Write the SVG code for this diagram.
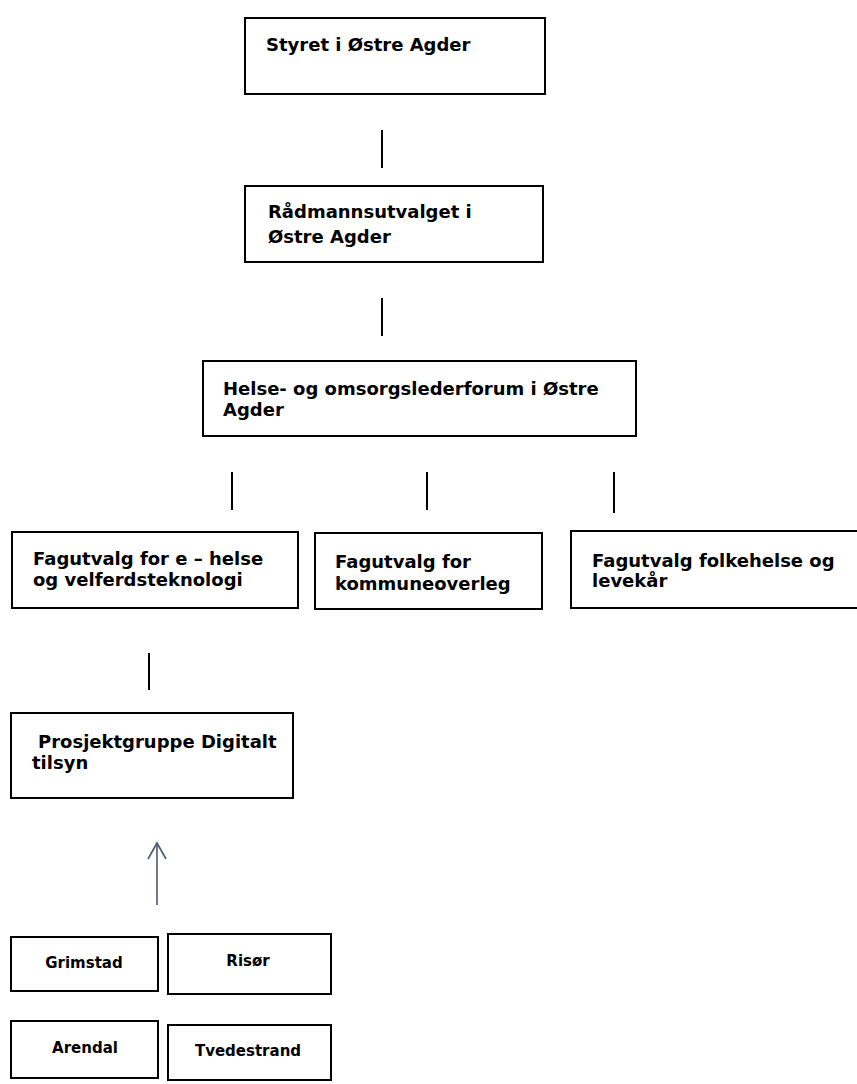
<svg xmlns="http://www.w3.org/2000/svg" width="857" height="1084" viewBox="0 0 857 1084">
<style>
.box{fill:#fff;stroke:#000;stroke-width:2}
.t{font-family:"DejaVu Sans","Liberation Sans",sans-serif;font-weight:bold;font-size:18px;fill:#000}
.s{font-family:"DejaVu Sans","Liberation Sans",sans-serif;font-weight:bold;font-size:15px;fill:#000;text-anchor:middle}
.ln{stroke:#000;stroke-width:2;fill:none}
.ar{stroke:#4a5a6e;stroke-width:1.6;fill:none}
</style>
<defs>
<marker id="open" markerWidth="20" markerHeight="22" refX="17" refY="10" orient="auto" markerUnits="userSpaceOnUse">
<path d="M1,1 L17,10 L1,19" stroke="#4a5a6e" stroke-width="1.6" fill="none"/>
</marker>
</defs>
<rect width="857" height="1084" fill="#fff"/>
<g id="connectors">
<line class="ln" x1="382" y1="130" x2="382" y2="168"/>
<line class="ln" x1="382" y1="298" x2="382" y2="336"/>
<line class="ln" x1="232" y1="472" x2="232" y2="510"/>
<line class="ln" x1="427" y1="472" x2="427" y2="510"/>
<line class="ln" x1="614" y1="472" x2="614" y2="513"/>
<line class="ln" x1="149" y1="653" x2="149" y2="690"/>
<line class="ar" x1="157" y1="905" x2="157" y2="843" marker-end="url(#open)"/>
</g>
<g id="styret">
<rect class="box" x="245" y="18" width="300" height="76"/>
<text class="t" x="266" y="51">Styret i Østre Agder</text>
</g>
<g id="radmann">
<rect class="box" x="245" y="186" width="298" height="76"/>
<text class="t" x="268" y="218">Rådmannsutvalget i</text>
<text class="t" x="268" y="243">Østre Agder</text>
</g>
<g id="helse">
<rect class="box" x="203" y="361" width="433" height="75"/>
<text class="t" x="223" y="395">Helse- og omsorgslederforum i Østre</text>
<text class="t" x="223" y="416">Agder</text>
</g>
<g id="ehelse">
<rect class="box" x="12" y="532" width="286" height="76"/>
<text class="t" x="33" y="565">Fagutvalg for e – helse</text>
<text class="t" x="33" y="586">og velferdsteknologi</text>
</g>
<g id="kommuneoverlege">
<rect class="box" x="315" y="533" width="227" height="76"/>
<text class="t" x="335" y="568">Fagutvalg for</text>
<text class="t" x="335" y="590">kommuneoverleg</text>
</g>
<g id="folkehelse">
<rect class="box" x="571" y="531" width="290" height="77"/>
<text class="t" x="592" y="567">Fagutvalg folkehelse og</text>
<text class="t" x="592" y="587">levekår</text>
</g>
<g id="prosjekt">
<rect class="box" x="11" y="713" width="282" height="85"/>
<text class="t" x="38" y="748">Prosjektgruppe Digitalt</text>
<text class="t" x="32" y="769">tilsyn</text>
</g>
<g id="grimstad">
<rect class="box" x="11" y="937" width="147" height="54"/>
<text class="s" x="84" y="968">Grimstad</text>
</g>
<g id="risor">
<rect class="box" x="168" y="934" width="163" height="60"/>
<text class="s" x="248" y="966">Risør</text>
</g>
<g id="arendal">
<rect class="box" x="11" y="1021" width="147" height="57"/>
<text class="s" x="85" y="1053">Arendal</text>
</g>
<g id="tvedestrand">
<rect class="box" x="168" y="1025" width="163" height="55"/>
<text class="s" x="248" y="1056">Tvedestrand</text>
</g>
</svg>
